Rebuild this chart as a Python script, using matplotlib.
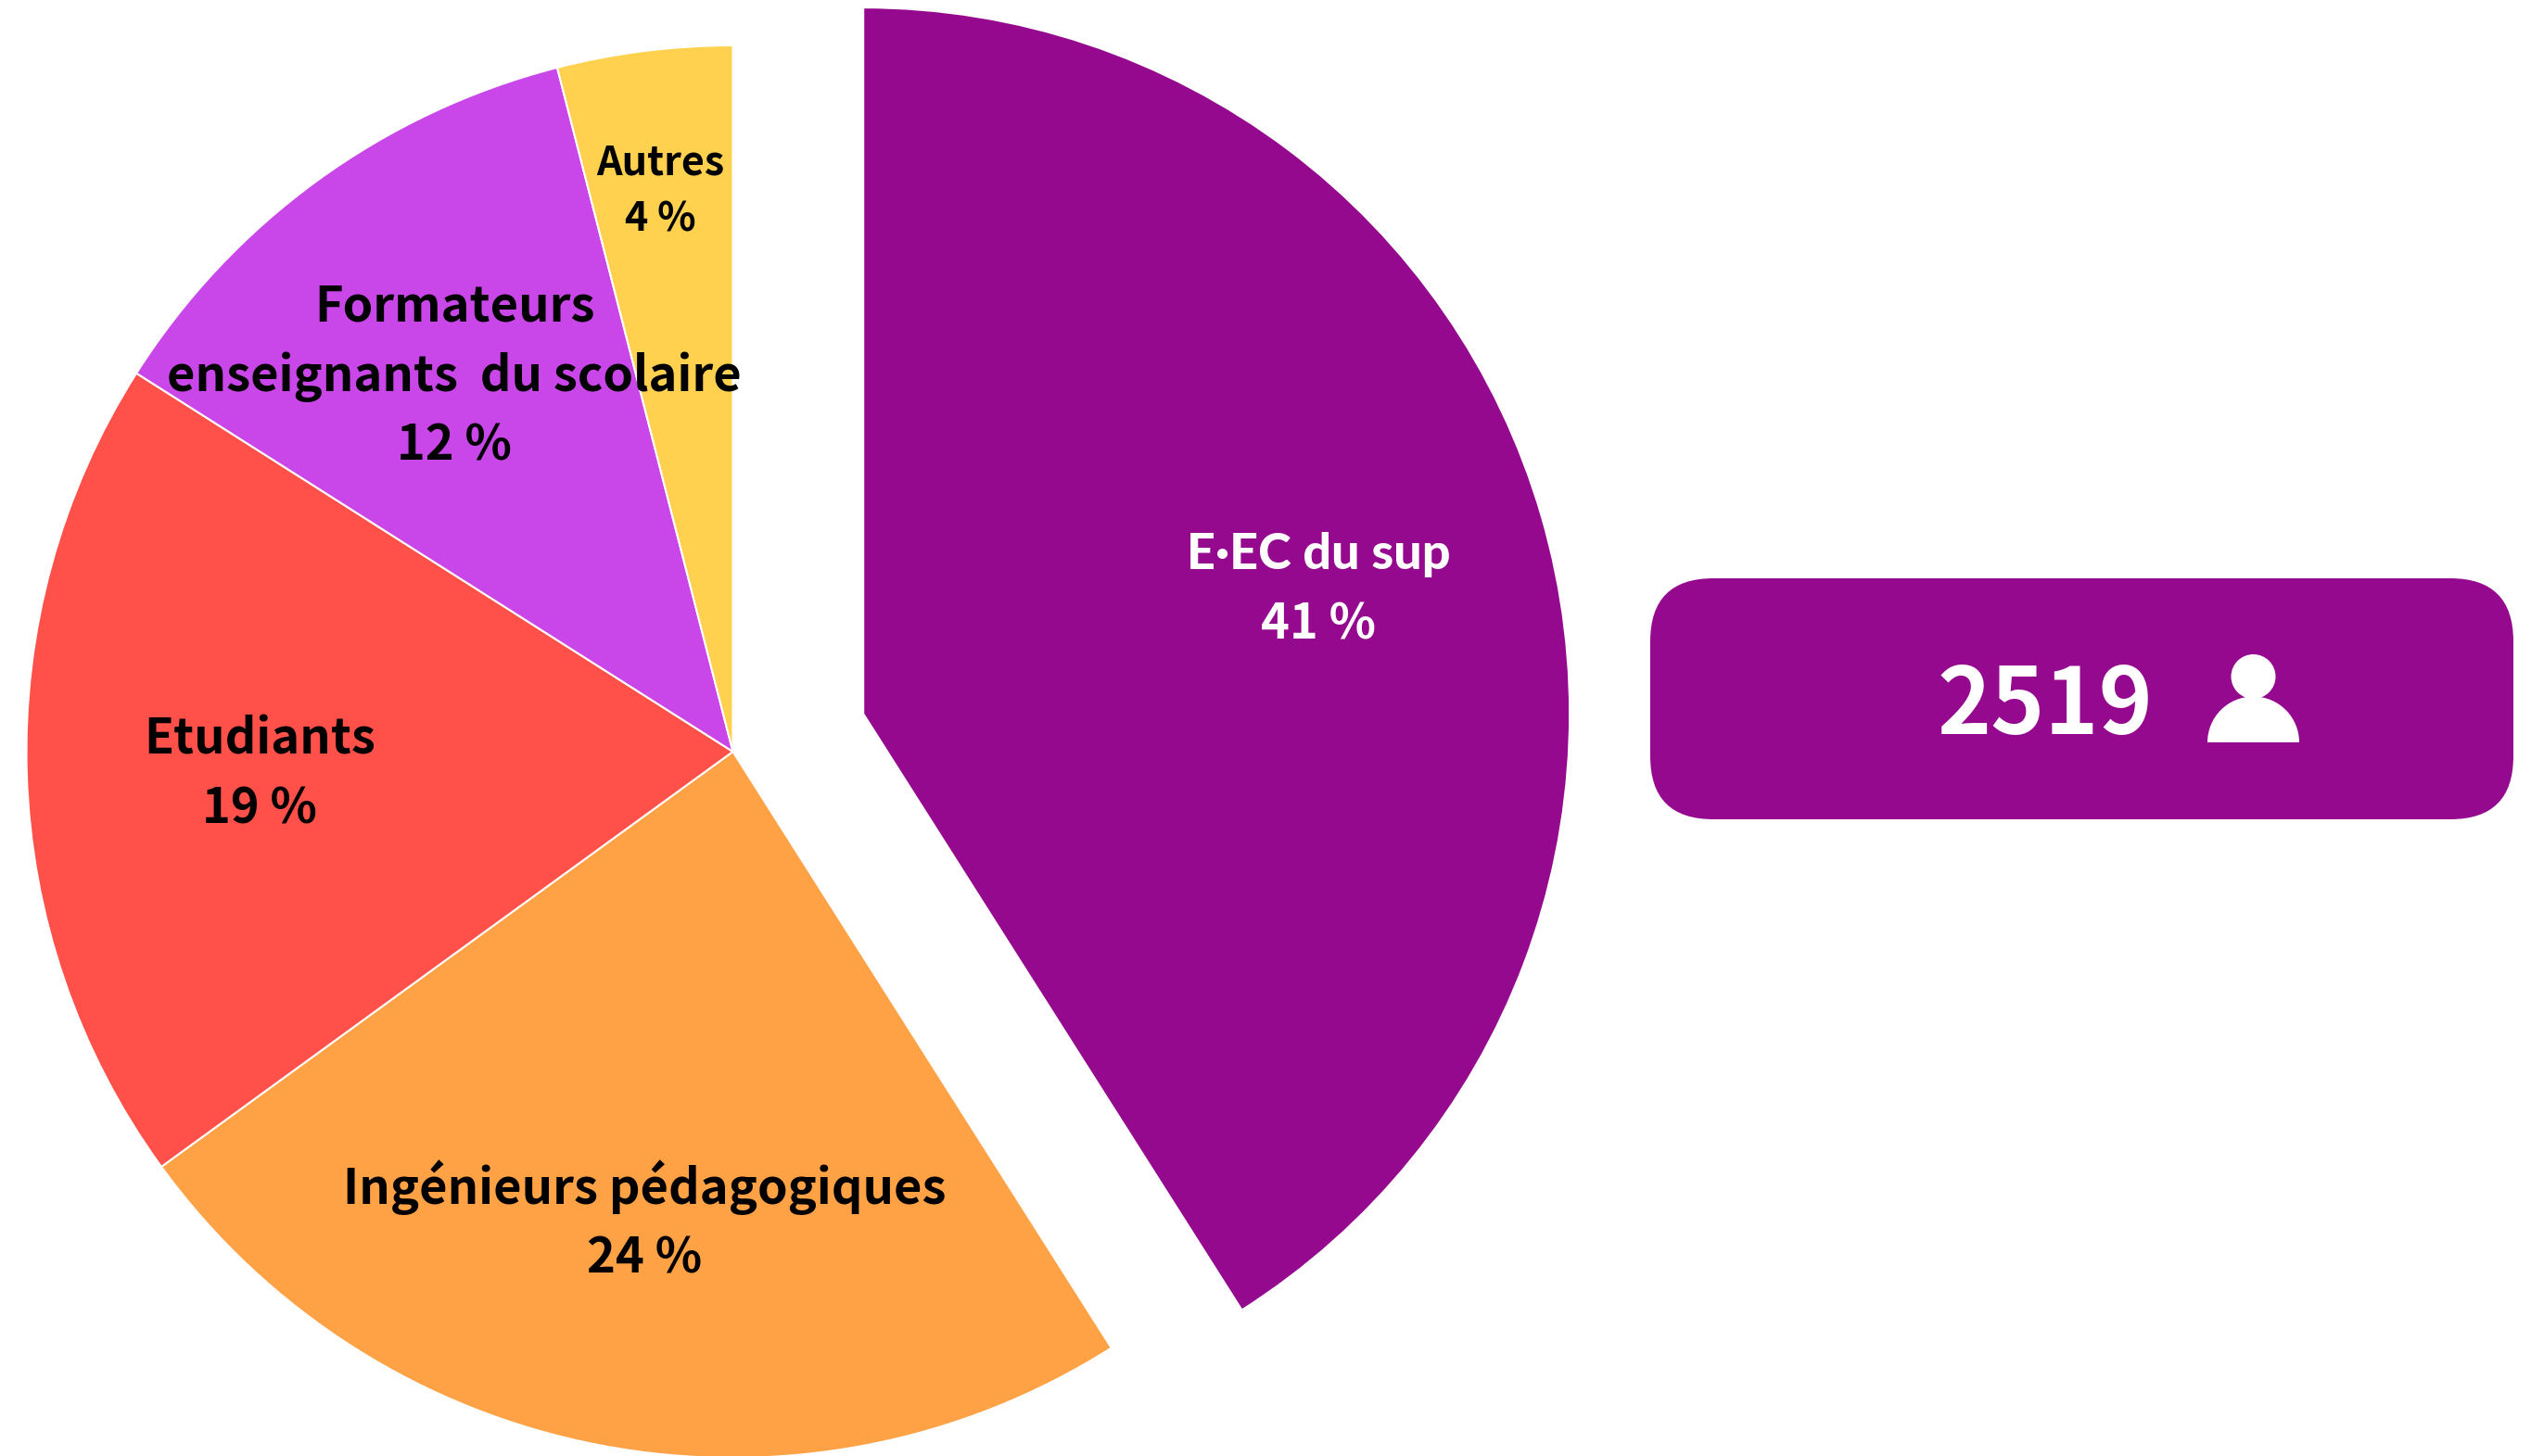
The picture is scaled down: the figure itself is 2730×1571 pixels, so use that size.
import matplotlib
matplotlib.use("Agg")
import matplotlib.pyplot as plt
from matplotlib.patches import FancyBboxPatch, Circle, Wedge

categories = ["E·EC du sup", "Ingénieurs pédagogiques", "Etudiants",
              "Formateurs\nenseignants  du scolaire", "Autres"]
values = [41, 24, 19, 12, 4]
colors = ["#95098E", "#FFA145", "#FF5049", "#C946E8", "#FFD14F"]
total_people = "2519"

W, H = 2730, 1571
fig = plt.figure(figsize=(W / 100, H / 100), dpi=100)
ax = fig.add_axes([0, 0, 1, 1])

FONT = ["Noto Sans CJK SC", "DejaVu Sans"]
DOT_FONT = ["Lato", "DejaVu Sans"]   # narrow middle dot
cx, cy, R = 790.5, H - 811, 762
ax.pie(values, colors=colors, startangle=90, counterclock=False,
       explode=[146.5, 0, 0, 0, 0], radius=R, center=(cx, cy),
       frame=True, wedgeprops=dict(edgecolor="white", linewidth=1.5))
ax.set_xlim(0, W)
ax.set_ylim(0, H)
ax.set_aspect("equal")
ax.axis("off")

# centre x, first baseline y (image px), font size, colour, line step
labels = [
    (1422, 614, 37.7, "white", 75),
    (695, 1299, 37.7, "black", 75),
    (280, 813, 37.7, "black", 75),
    (490, 346.5, 37.7, "black", 75),
    (712, 188, 31, "black", 61),
]
for name, val, (px, py, fs, col, step) in zip(categories, values, labels):
    lines = name.split("\n") + [f"{val} %"]
    for i, line in enumerate(lines):
        has_dot = "·" in line
        ax.text(px, H - (py + i * step), line, ha="center", va="baseline",
                fontsize=fs * 1.03 if has_dot else fs,
                fontweight=900 if has_dot else "bold",
                color=col, family=DOT_FONT if has_dot else FONT)

# total box
pad = 68
box = FancyBboxPatch((1780 + pad, H - 884 + pad), 931 - 2 * pad, 260 - 2 * pad,
                     boxstyle=f"round,pad={pad},rounding_size={pad}",
                     facecolor="#95098E", edgecolor="none")
ax.add_patch(box)
ax.text(2206, H - 792, total_people, ha="center", va="baseline", color="white",
        fontsize=71, fontweight="bold", family=FONT)

# person icon
ax.add_patch(Circle((2430.5, H - 730), 24, facecolor="white", edgecolor="none"))
ax.add_patch(Wedge((2430.5, H - 801), 49.5, 0, 180, facecolor="white", edgecolor="none"))

fig.savefig("out.png", dpi=100, facecolor="white")
